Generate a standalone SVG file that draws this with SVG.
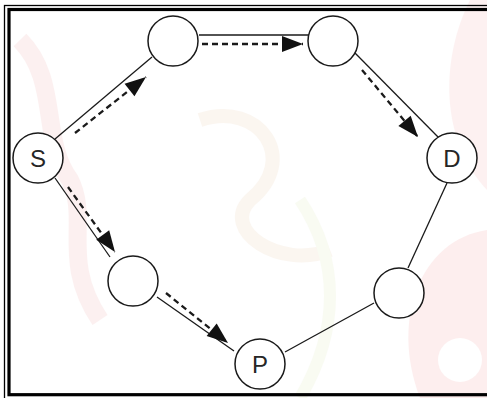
<svg xmlns="http://www.w3.org/2000/svg" width="487" height="398" viewBox="0 0 487 398">
  <defs>
    <style>
      .node circle { fill: #ffffff; stroke: #1a1a1a; stroke-width: 1.5; }
      .node text { font-family: "Liberation Sans", Arial, sans-serif; fill: #262626; text-anchor: middle; }
      .solid { stroke: #1a1a1a; stroke-width: 1.3; fill: none; }
      .dash { stroke: #1a1a1a; stroke-width: 2.3; fill: none; stroke-dasharray: 6 4; }
    </style>
    <marker id="arrow" refX="22" refY="9" markerWidth="23" markerHeight="18" markerUnits="userSpaceOnUse" orient="auto">
      <path d="M1,1 L22,9 L1,17 z" fill="#111"/>
    </marker>
  </defs>
  <rect x="0" y="0" width="487" height="398" fill="#ffffff"/>
  <g id="watermark" opacity="0.35">
    <path d="M470,0 C440,60 440,140 487,190 L487,0 Z" fill="#fbd9d9"/>
    <path d="M487,230 C420,240 390,320 420,398 L487,398 Z" fill="#fbd0d0"/>
    <circle cx="460" cy="360" r="22" fill="#ffffff"/>
    <path d="M20,40 C60,80 40,140 70,180 C90,220 60,260 100,320" stroke="#f8d6d6" stroke-width="18" fill="none"/>
    <path d="M200,120 C260,100 300,160 250,200 C220,230 280,270 330,250" stroke="#f5e6d6" stroke-width="14" fill="none"/>
    <path d="M300,200 C340,260 340,330 300,398" stroke="#eef5dc" stroke-width="12" fill="none"/>
  </g>
  <g id="frame" fill="none" stroke="#000">
    <rect x="4.5" y="5.5" width="495" height="400" stroke-width="1.3"/>
    <rect x="9" y="9.5" width="495" height="385.2" stroke-width="3.2"/>
  </g>
  <g id="connectors">
    <line class="solid" x1="55" y1="139" x2="152" y2="57"/>
    <line class="dash" x1="75" y1="133" x2="146" y2="77" marker-end="url(#arrow)"/>
    <line class="solid" x1="199" y1="35" x2="309" y2="35"/>
    <line class="dash" x1="202" y1="44" x2="303" y2="44" marker-end="url(#arrow)"/>
    <line class="solid" x1="355" y1="53" x2="439" y2="138"/>
    <line class="dash" x1="362" y1="70" x2="418" y2="137" marker-end="url(#arrow)"/>
    <line class="solid" x1="55" y1="178" x2="110" y2="257"/>
    <line class="dash" x1="68" y1="187" x2="115" y2="252" marker-end="url(#arrow)"/>
    <line class="solid" x1="157" y1="297" x2="234" y2="351"/>
    <line class="dash" x1="166" y1="293" x2="228" y2="343" marker-end="url(#arrow)"/>
    <line class="solid" x1="285" y1="352" x2="374" y2="303"/>
    <line class="solid" x1="408" y1="268" x2="447" y2="183"/>
  </g>
  <g id="S" class="node"><circle cx="38" cy="158" r="25"/><text x="38" y="166.5" font-size="24">S</text></g>
  <g id="N1" class="node"><circle cx="173" cy="41" r="25"/></g>
  <g id="N2" class="node"><circle cx="333" cy="41" r="25"/></g>
  <g id="D" class="node"><circle cx="452" cy="158" r="25"/><text x="452" y="166.5" font-size="24">D</text></g>
  <g id="N3" class="node"><circle cx="399" cy="293" r="25"/></g>
  <g id="P" class="node"><circle cx="260" cy="364" r="25"/><text x="260" y="372.5" font-size="24">P</text></g>
  <g id="N4" class="node"><circle cx="133" cy="281" r="25"/></g>
</svg>
